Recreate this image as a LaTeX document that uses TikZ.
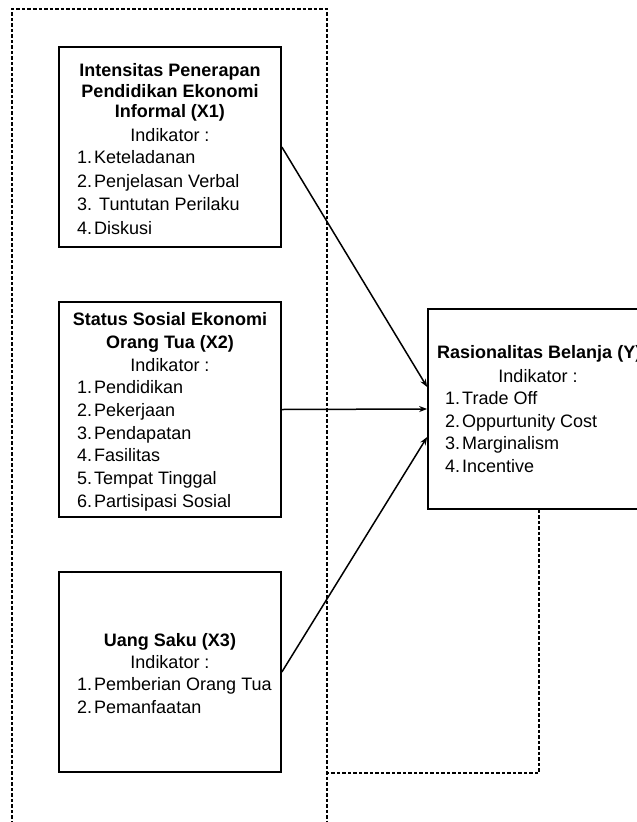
\documentclass[tikz,border=0pt]{standalone}
\usepackage{fontspec}
\setmainfont{Liberation Sans}
\usetikzlibrary{arrows.meta}
\begin{document}
\begin{tikzpicture}[x=1pt,y=-1pt,
  box/.style={draw, line width=1.7pt, minimum width=222pt, inner sep=0pt},
  ttl/.style={font=\fontsize{18}{20.5}\selectfont\bfseries, align=center, anchor=base, inner sep=0pt},
  ind/.style={font=\fontsize{18}{23}\selectfont, anchor=base, inner sep=0pt},
  lst/.style={font=\fontsize{18}{23}\selectfont, align=left, anchor=base west, inner sep=0pt},
  arr/.style={line width=1.5pt, -{Stealth[length=8pt,width=6pt]}},
  dline/.style={line width=1.1pt, dash pattern=on 3.5pt off 2pt}]
\useasboundingbox (0,0) rectangle (637,822);
% outer dashed frame
\draw[dline] (12,824) -- (12,9) -- (327,9) -- (327,824);
% boxes
\node[box, minimum height=200pt] (x1) at (170,147) {};
\node[box, minimum height=215pt] (x2) at (170,409.5) {};
\node[box, minimum height=200pt] (x3) at (170,672) {};
\node[box, minimum height=200pt] (y) at (539,409) {};
% X1 text (base anchor = last line)
\node[ttl] (x1t) at (170,117.5) {Intensitas Penerapan\\Pendidikan Ekonomi\\Informal (X1)};
\node[ind] (x1i) at (170,141.5) {Indikator :};
\node[lst, font=\fontsize{18}{23.5}\selectfont] (x1l) at (77,234) {1.\hspace{2pt}Keteladanan\\2.\hspace{2pt}Penjelasan Verbal\\3.\hspace{2pt}\ Tuntutan Perilaku\\4.\hspace{2pt}Diskusi};
% X2 text
\node[ttl, font=\fontsize{18}{23}\selectfont\bfseries] (x2t) at (170,348.5) {Status Sosial Ekonomi\\Orang Tua (X2)};
\node[ind] (x2i) at (170,371.5) {Indikator :};
\node[lst, font=\fontsize{18}{22.8}\selectfont] (x2l) at (77,507.5) {1.\hspace{2pt}Pendidikan\\2.\hspace{2pt}Pekerjaan\\3.\hspace{2pt}Pendapatan\\4.\hspace{2pt}Fasilitas\\5.\hspace{2pt}Tempat Tinggal\\6.\hspace{2pt}Partisipasi Sosial};
% X3 text
\node[ttl] (x3t) at (170,646.5) {Uang Saku (X3)};
\node[ind] (x3i) at (170,668.5) {Indikator :};
\node[lst] (x3l) at (77,713.5) {1.\hspace{2pt}Pemberian Orang Tua\\2.\hspace{2pt}Pemanfaatan};
% Y text
\node[ttl, anchor=base west] (yt) at (437,358.5) {Rasionalitas Belanja (Y)};
\node[ind] (yi) at (538,382.5) {Indikator :};
\node[lst, font=\fontsize{18}{22.7}\selectfont] (yl) at (445,472.6) {1.\hspace{2pt}Trade Off\\2.\hspace{2pt}Oppurtunity Cost\\3.\hspace{2pt}Marginalism\\4.\hspace{2pt}Incentive};
% arrows
\draw[arr] (x1.east) -- ([yshift=22pt]y.west);
\draw[arr] (x2.east) -- (y.west);
\draw[arr] (x3.east) -- ([yshift=-28pt]y.west);
% dashed from Y
\draw[dline] (y.south) |- (327,773);
\end{tikzpicture}
\end{document}
